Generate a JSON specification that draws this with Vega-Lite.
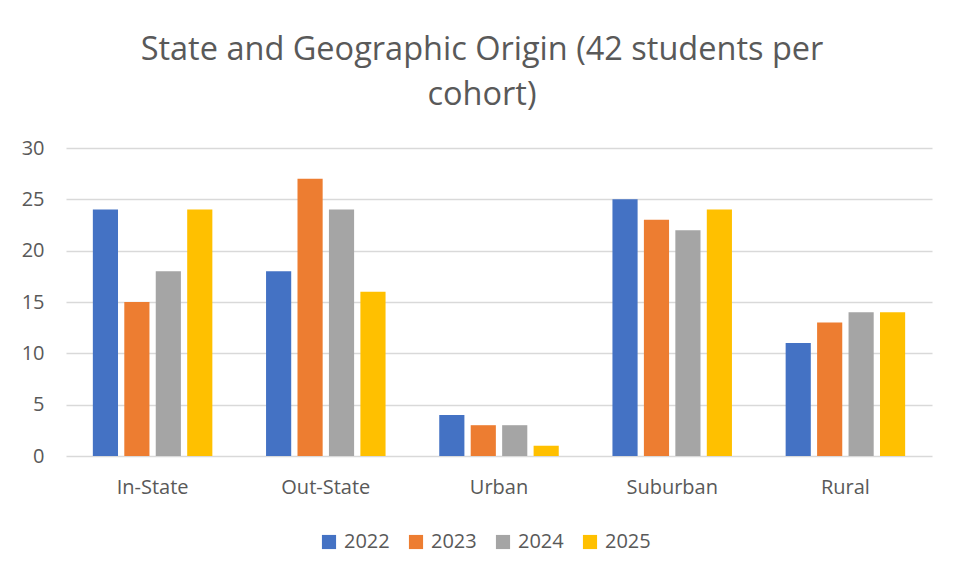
{
  "$schema": "https://vega.github.io/schema/vega-lite/v6.json",
  "width": 866,
  "height": 308,
  "autosize": {"type": "none"},
  "padding": {"left": 66, "top": 148, "right": 32, "bottom": 122},
  "background": "white",
  "title": {
    "text": ["State and Geographic Origin (42 students per", "cohort)"],
    "anchor": "middle",
    "dx": -17,
    "offset": 27,
    "fontSize": 32.5,
    "font": "Open Sans",
    "fontWeight": "normal",
    "color": "#595959",
    "lineHeight": 45
  },
  "data": {
    "values": [
      {"cat": "In-State", "year": "2022", "v": 24},
      {"cat": "In-State", "year": "2023", "v": 15},
      {"cat": "In-State", "year": "2024", "v": 18},
      {"cat": "In-State", "year": "2025", "v": 24},
      {"cat": "Out-State", "year": "2022", "v": 18},
      {"cat": "Out-State", "year": "2023", "v": 27},
      {"cat": "Out-State", "year": "2024", "v": 24},
      {"cat": "Out-State", "year": "2025", "v": 16},
      {"cat": "Urban", "year": "2022", "v": 4},
      {"cat": "Urban", "year": "2023", "v": 3},
      {"cat": "Urban", "year": "2024", "v": 3},
      {"cat": "Urban", "year": "2025", "v": 1},
      {"cat": "Suburban", "year": "2022", "v": 25},
      {"cat": "Suburban", "year": "2023", "v": 23},
      {"cat": "Suburban", "year": "2024", "v": 22},
      {"cat": "Suburban", "year": "2025", "v": 24},
      {"cat": "Rural", "year": "2022", "v": 11},
      {"cat": "Rural", "year": "2023", "v": 13},
      {"cat": "Rural", "year": "2024", "v": 14},
      {"cat": "Rural", "year": "2025", "v": 14}
    ]
  },
  "mark": {"type": "bar"},
  "encoding": {
    "x": {
      "field": "cat",
      "type": "nominal",
      "sort": null,
      "scale": {"paddingInner": 0.31, "paddingOuter": 0.155},
      "axis": {
        "title": null,
        "labelAngle": 0,
        "ticks": false,
        "domain": false,
        "labelFontSize": 20,
        "labelFont": "Open Sans",
        "labelColor": "#595959",
        "labelPadding": 21
      }
    },
    "xOffset": {
      "field": "year",
      "type": "nominal",
      "scale": {"paddingInner": 0.2, "paddingOuter": 0}
    },
    "y": {
      "field": "v",
      "type": "quantitative",
      "scale": {"domain": [0, 30]},
      "axis": {
        "title": null,
        "values": [0, 5, 10, 15, 20, 25, 30],
        "ticks": false,
        "domain": false,
        "gridColor": "#d9d9d9",
        "gridWidth": 1.5,
        "labelFontSize": 20,
        "labelFont": "Open Sans",
        "labelColor": "#595959",
        "labelPadding": 22
      }
    },
    "color": {
      "field": "year",
      "type": "nominal",
      "scale": {"range": ["#4472C4", "#ED7D31", "#A5A5A5", "#FFC000"]},
      "legend": {
        "title": null,
        "orient": "none",
        "legendX": 253,
        "legendY": 384,
        "direction": "horizontal",
        "symbolType": "square",
        "symbolSize": 200,
        "symbolStrokeWidth": 0,
        "labelFontSize": 20,
        "labelFont": "Open Sans",
        "labelColor": "#595959",
        "columnPadding": 16,
        "labelOffset": 5
      }
    }
  },
  "config": {"view": {"stroke": null}}
}
